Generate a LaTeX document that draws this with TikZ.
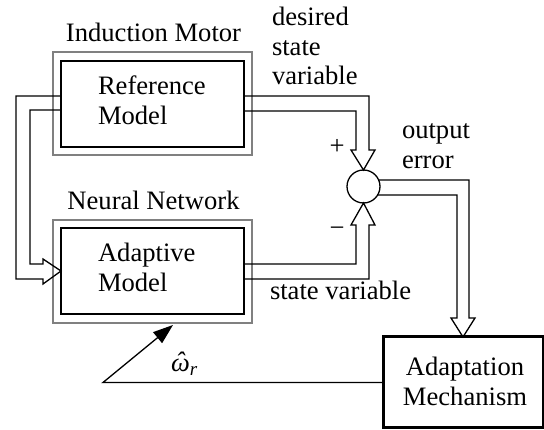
\documentclass[tikz,border=0pt]{standalone}
\usepackage{fontspec}
\setmainfont{Liberation Serif}
\usetikzlibrary{arrows.meta}
\begin{document}
\begin{tikzpicture}[x=1pt,y=-1pt,
  every node/.style={inner sep=0pt, outer sep=0pt, font=\fontsize{26.6}{29.5}\selectfont},
  shell/.style={draw=black!50, line width=1.3pt, minimum width=199pt, minimum height=103pt},
  core/.style={draw=black, line width=1.4pt, minimum width=183pt, minimum height=86pt},
  wire/.style={draw=black, line width=1.3pt, line join=miter},
  txt/.style={anchor=base west},
  ctxt/.style={anchor=base},
]
\useasboundingbox (0,0) rectangle (544,430);

% model blocks: gray shell around a black core
\node[shell] (refOut) at (152.5,103.5) {};
\node[core]  (refIn)  at (152.5,104) {};
\node[shell] (adaOut) at (152.5,271.5) {};
\node[core]  (adaIn)  at (152.5,271) {};

% summing junction and adaptation block
\node[draw, circle, line width=1.3pt, minimum size=33pt] (sum) at (363.5,186.5) {};
\node[draw, line width=3pt, minimum width=160pt, minimum height=91pt] (adapt) at (463,382.5) {};

% texts
\node[ctxt] (tMotor) at (153.5,42) {Induction Motor};
\node[ctxt] (tNet) at (153.5,210) {Neural Network};
\node[txt] (tRef) at (98,95) {\begin{tabular}[t]{@{}l@{}}Reference\\Model\end{tabular}};
\node[txt] (tAda) at (98,262) {\begin{tabular}[t]{@{}l@{}}Adaptive\\Model\end{tabular}};
\node[ctxt] (tMech) at (465,376) {\begin{tabular}[t]{@{}c@{}}Adaptation\\Mechanism\end{tabular}};
\node[txt] (tDes) at (272,26) {\begin{tabular}[t]{@{}l@{}}desired\\state\\variable\end{tabular}};
\node[txt] (tErr) at (402,139) {\begin{tabular}[t]{@{}l@{}}output\\error\end{tabular}};
\node[txt] (tState) at (270,300) {state variable};
\node[ctxt] (tPlus) at (337,155) {+};
\node[ctxt] (tMinus) at (337,237) {−};
% estimated speed: italic omega with a hat and subscript r
\node[txt] (tOmega) at (171,372)
  {\itshape\makebox[0pt][l]{\hspace{4.5pt}\raisebox{1pt}{ˆ}}ω\raisebox{-4pt}{\fontsize{19}{19}\selectfont r}};

% reference output into the junction (+)
\draw[wire] ([yshift=8pt]refIn.east) -- (369,96) -- (369,150) -- (375,150)
  -- (sum.north) -- (351,150) -- (356,150) -- (356,111) -- ([yshift=-7pt]refIn.east);

% adaptive output into the junction (-)
\draw[wire] ([yshift=7pt]adaIn.east) -- (356,264) -- (356,225) -- (351,225)
  -- (sum.south) -- (375,225) -- (369,225) -- (369,279) -- ([yshift=-8pt]adaIn.east);

% output error down to the adaptation block
\draw[wire] (sum.23) -- (469,180) -- (469,318) -- (475,318)
  -- (adapt.north) -- (451,318) -- (457,318) -- (457,195) -- (sum.-31);

% common input fed to both models
\draw[wire] ([yshift=8pt]refIn.west) -- (16,96) -- (16,279) -- (43,279) -- (43,284)
  -- (adaIn.west) -- (43,259) -- (43,264) -- (30,264) -- (30,110) -- ([yshift=-6pt]refIn.west);

% estimated speed fed back to the adaptive model
\draw[line width=1.3pt, -{Triangle[length=20pt,width=14pt]}]
  (adapt.west) -- (103,382.5) -- ([xshift=20.5pt,yshift=-2pt]adaOut.south);
\end{tikzpicture}
\end{document}
